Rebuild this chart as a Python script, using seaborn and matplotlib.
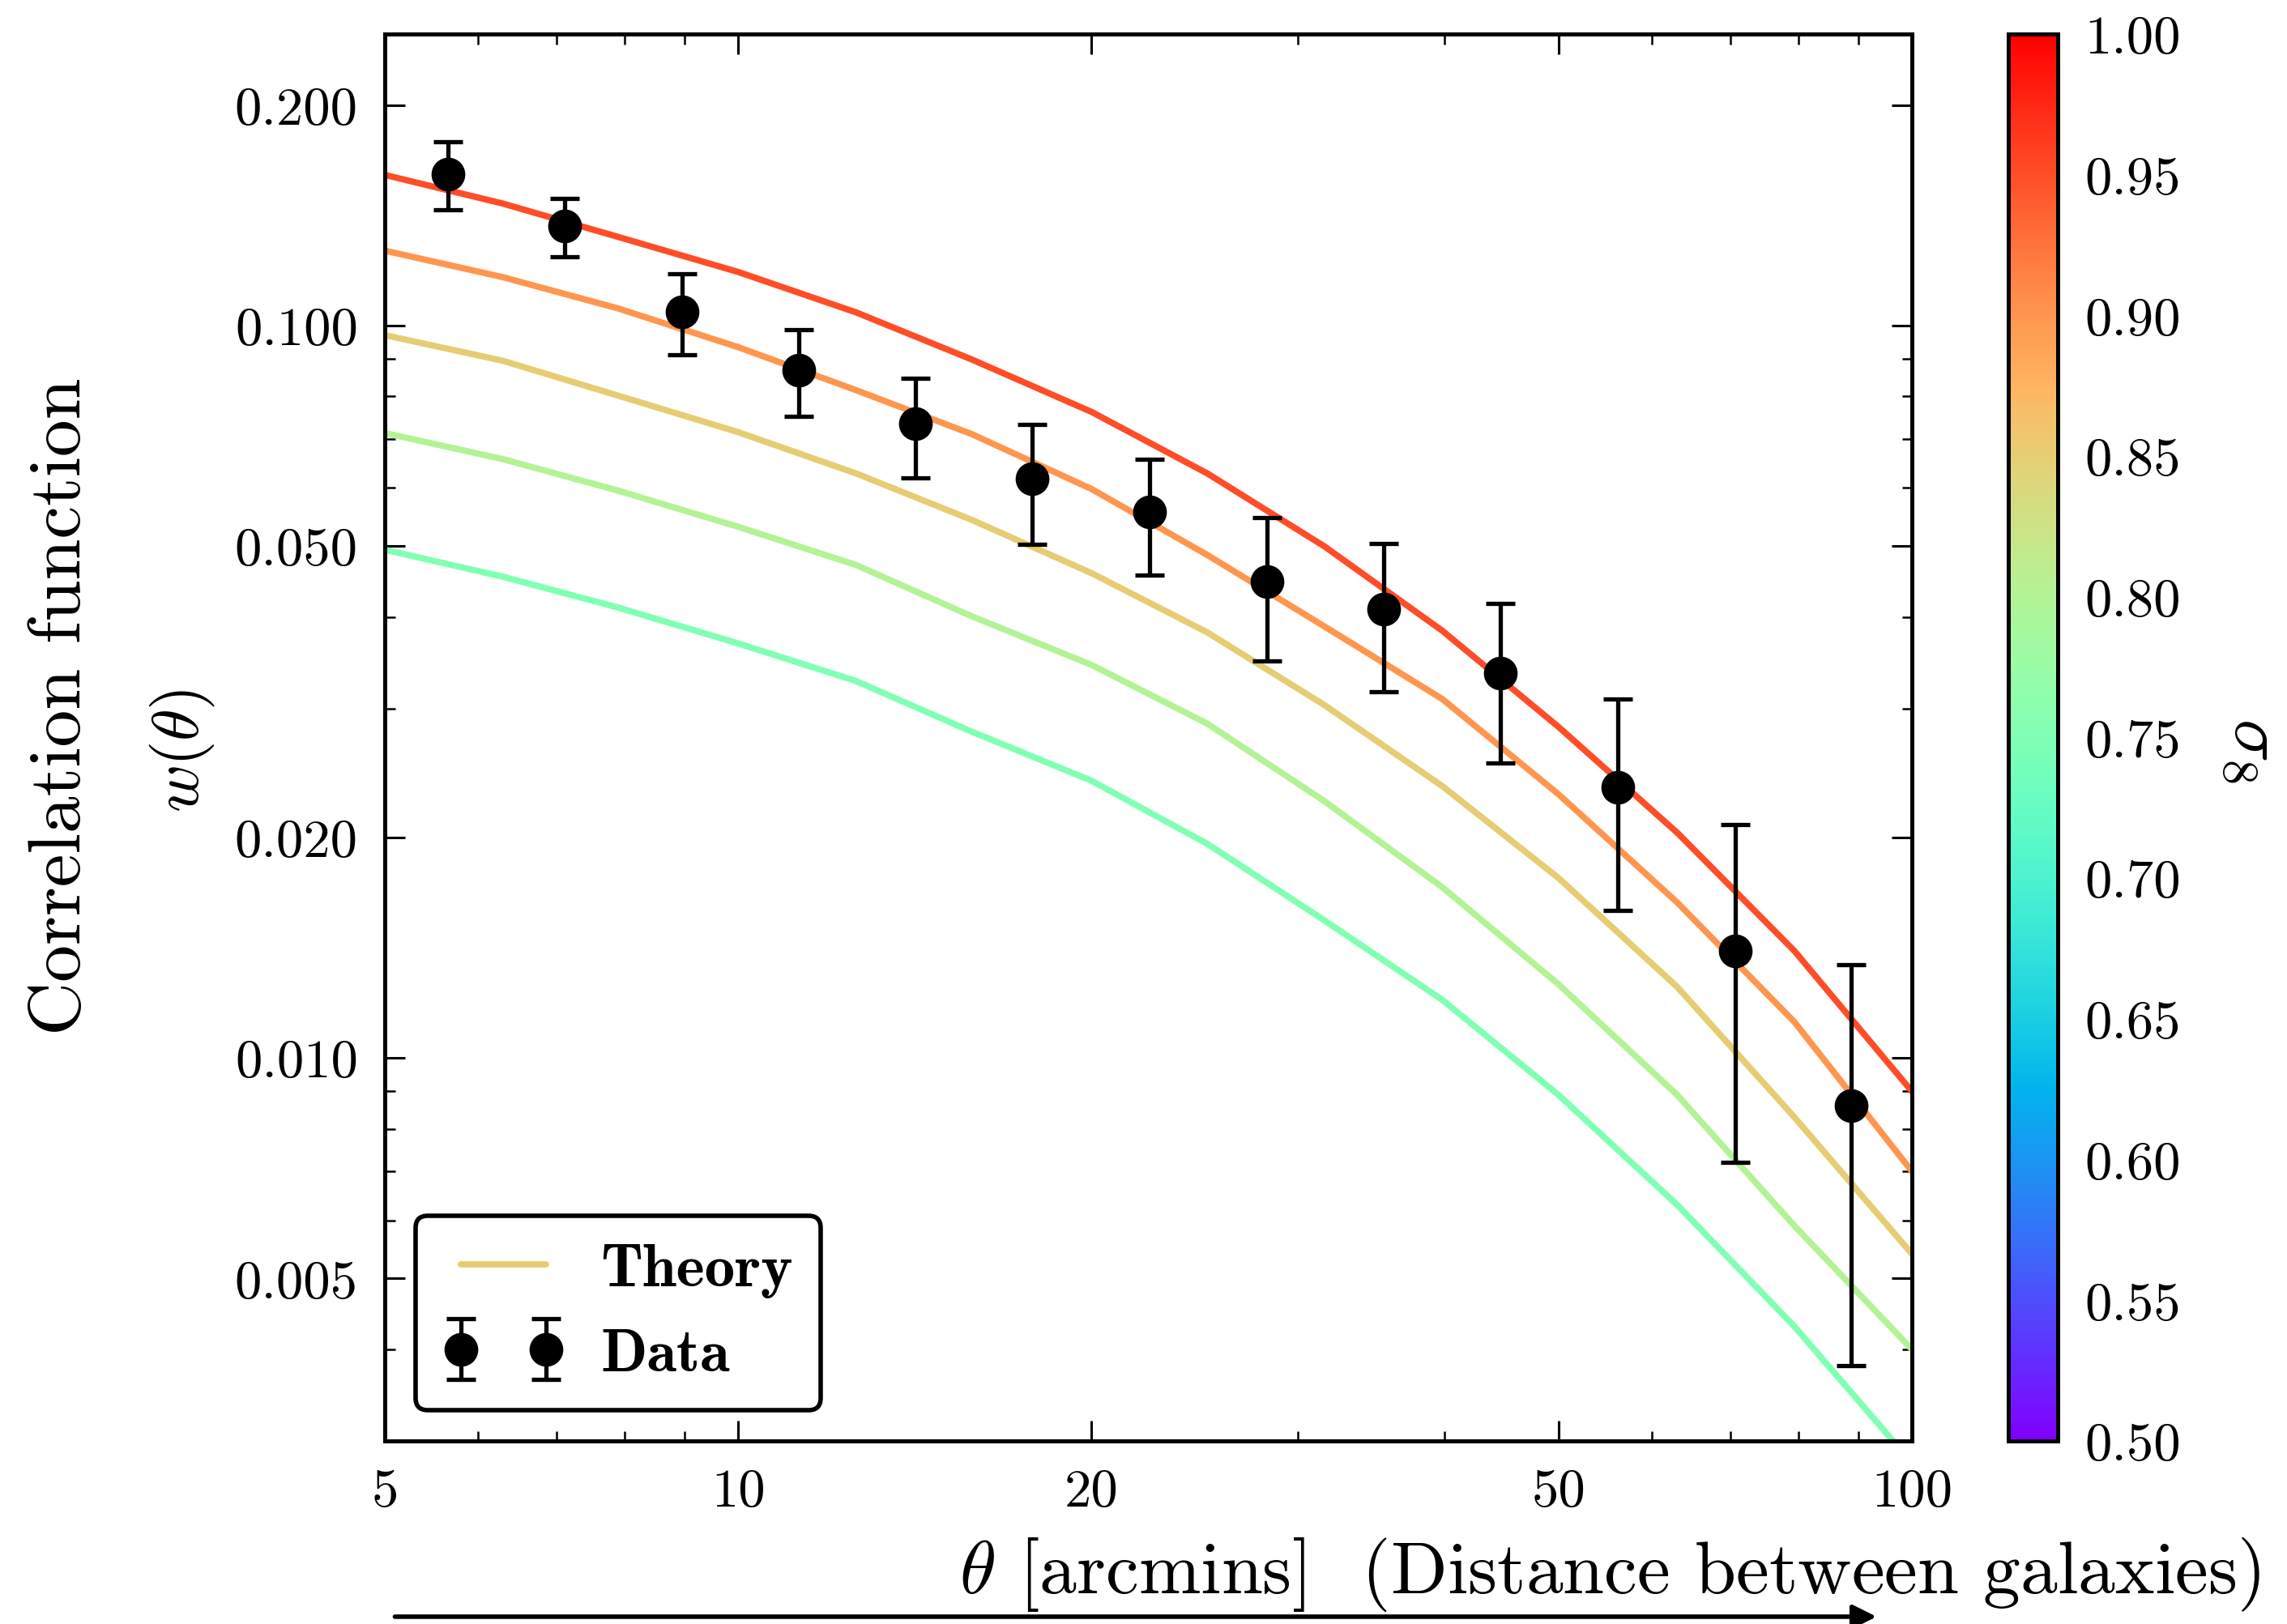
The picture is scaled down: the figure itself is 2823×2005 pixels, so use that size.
import numpy as np
import pandas as pd
import matplotlib
matplotlib.use('Agg')
import matplotlib.pyplot as plt
import seaborn as sns
from matplotlib.colors import Normalize
from matplotlib.lines import Line2D
from matplotlib.ticker import FixedLocator, FixedFormatter, NullFormatter

# theory curves, one per sigma_8
theta_model = [5.0, 6.3, 7.9, 10.0, 12.6, 15.8, 20.0, 25.1, 31.6, 39.8, 50.0, 63.1, 79.4, 100.0]
w_s095 = [0.1605, 0.1467, 0.1321, 0.1183, 0.1042, 0.0899, 0.0762, 0.0628, 0.0499, 0.0383, 0.0283, 0.0203, 0.0140, 0.0090]
w_s090 = [0.1265, 0.1164, 0.1055, 0.0934, 0.0816, 0.0711, 0.0598, 0.0486, 0.0388, 0.0309, 0.0229, 0.0163, 0.0112, 0.0070]
w_s085 = [0.0970, 0.0895, 0.0802, 0.0715, 0.0628, 0.0543, 0.0459, 0.0381, 0.0303, 0.0235, 0.0176, 0.0125, 0.0083, 0.0054]
w_s080 = [0.0713, 0.0657, 0.0595, 0.0531, 0.0471, 0.0401, 0.0344, 0.0286, 0.0224, 0.0171, 0.0126, 0.0089, 0.0059, 0.0040]
w_s075 = [0.0494, 0.0454, 0.0412, 0.0368, 0.0327, 0.0279, 0.0239, 0.0196, 0.0154, 0.0120, 0.0089, 0.0063, 0.0043, 0.0028]
sigma8_values = [0.95, 0.90, 0.85, 0.80, 0.75]

# measured points
theta_data = [5.66, 7.11, 8.96, 11.26, 14.15, 17.8, 22.4, 28.2, 35.5, 44.6, 56.2, 70.7, 88.8]
w_data = [0.1609, 0.1366, 0.1044, 0.0869, 0.0734, 0.0617, 0.0556, 0.0447, 0.0410, 0.0335, 0.0234, 0.0140, 0.0086]
w_err = [0.0172, 0.0125, 0.0132, 0.0117, 0.0114, 0.0115, 0.0100, 0.0099, 0.0094, 0.0082, 0.0075, 0.0068, 0.0048]

x_ticks = [5, 10, 20, 50, 100]
x_ticklabels = ['5', '10', '20', '50', '100']
y_ticks = [0.005, 0.01, 0.02, 0.05, 0.1, 0.2]
y_ticklabels = ['0.005', '0.010', '0.020', '0.050', '0.100', '0.200']
cbar_ticks = [0.50, 0.55, 0.60, 0.65, 0.70, 0.75, 0.80, 0.85, 0.90, 0.95, 1.00]

sns.set_theme(style='ticks')
plt.rcParams['font.family'] = ['cmr10', 'DejaVu Serif']
plt.rcParams['mathtext.fontset'] = 'cm'
plt.rcParams['axes.unicode_minus'] = False
plt.rcParams['axes.formatter.use_mathtext'] = True
plt.rcParams['text.color'] = 'black'
plt.rcParams['axes.labelcolor'] = 'black'
plt.rcParams['axes.edgecolor'] = 'black'
plt.rcParams['xtick.color'] = 'black'
plt.rcParams['ytick.color'] = 'black'

curves = [w_s095, w_s090, w_s085, w_s080, w_s075]
df = pd.concat([pd.DataFrame({'theta': theta_model, 'w': c, 'sigma8': s})
                for c, s in zip(curves, sigma8_values)], ignore_index=True)

cmap = plt.get_cmap('rainbow')
norm = Normalize(0.5, 1.0)

fig = plt.figure(figsize=(2823 / 200, 2006 / 200), dpi=200)
ax = fig.add_axes([0.1683, 0.1127, 0.6677, 0.8659])
cax = fig.add_axes([0.878, 0.1127, 0.0216, 0.8659])

ax.set_xscale('log')
ax.set_yscale('log')
sns.lineplot(data=df, x='theta', y='w', hue='sigma8', palette='rainbow', hue_norm=(0.5, 1.0),
             units='sigma8', estimator=None, sort=False, lw=2.8, legend=False, ax=ax)

eb = ax.errorbar(theta_data, w_data, yerr=w_err, fmt='o', color='black', ms=14,
                 elinewidth=1.9, capsize=6.5, capthick=1.9, zorder=5)

ax.set_xlim(5, 100)
ax.set_ylim(0.003, 0.25)
ax.xaxis.set_major_locator(FixedLocator(x_ticks))
ax.xaxis.set_major_formatter(FixedFormatter(x_ticklabels))
ax.xaxis.set_minor_locator(FixedLocator([6, 7, 8, 9, 30, 40, 60, 70, 80, 90]))
ax.xaxis.set_minor_formatter(NullFormatter())
ax.yaxis.set_major_locator(FixedLocator(y_ticks))
ax.yaxis.set_major_formatter(FixedFormatter(y_ticklabels))
ax.yaxis.set_minor_locator(FixedLocator([0.003, 0.004, 0.006, 0.007, 0.008, 0.009,
                                         0.03, 0.04, 0.06, 0.07, 0.08, 0.09]))
ax.yaxis.set_minor_formatter(NullFormatter())
ax.tick_params(which='both', direction='in', top=True, right=True, colors='black',
               labelsize=24, pad=12)
ax.tick_params(which='major', length=9, width=1.1)
ax.tick_params(which='minor', length=4.5, width=0.9)
for sp in ax.spines.values():
    sp.set_linewidth(1.8)
    sp.set_color('black')
ax.set_xlabel('')
ax.set_ylabel('')

theory_handle = Line2D([], [], color=cmap(norm(0.85)), lw=2.8)
leg = ax.legend([theory_handle, eb], ['Theory', 'Data'], loc='lower left',
                bbox_to_anchor=(0.02, 0.022), borderaxespad=0, numpoints=2,
                prop={'family': 'cmb10', 'size': 27}, handlelength=2.0, handletextpad=0.6,
                labelspacing=0.5, borderpad=0.45, fancybox=True, framealpha=1)
leg.get_frame().set_edgecolor('black')
leg.get_frame().set_linewidth(2.0)

sm = plt.cm.ScalarMappable(cmap=cmap, norm=norm)
cbar = fig.colorbar(sm, cax=cax)
cbar.set_ticks(cbar_ticks)
cbar.set_ticklabels(['%.2f' % t for t in cbar_ticks])
cbar.ax.tick_params(direction='in', length=9, width=1.1, labelsize=24, pad=12, colors='black')
cbar.outline.set_linewidth(1.8)
cbar.outline.set_edgecolor('black')

fig.text(0.0269, 0.565, 'Correlation function', rotation=90, ha='center', va='center', fontsize=33)
fig.text(0.0797, 0.538, r'$w(\theta)$', rotation=90, ha='center', va='center', fontsize=29)
fig.text(0.985, 0.538, r'$\sigma_8$', rotation=270, ha='center', va='center', fontsize=32)
fig.text(0.704, 0.031, r'$\theta$ [arcmins]  (Distance between galaxies)',
         ha='center', va='center', fontsize=33)
fig.add_artist(matplotlib.patches.FancyArrowPatch((0.1707, 0.0045), (0.8225, 0.0045),
                                                  transform=fig.transFigure, arrowstyle='-|>',
                                                  mutation_scale=22, lw=2.0, color='black'))

fig.savefig('out.png', dpi=200)
